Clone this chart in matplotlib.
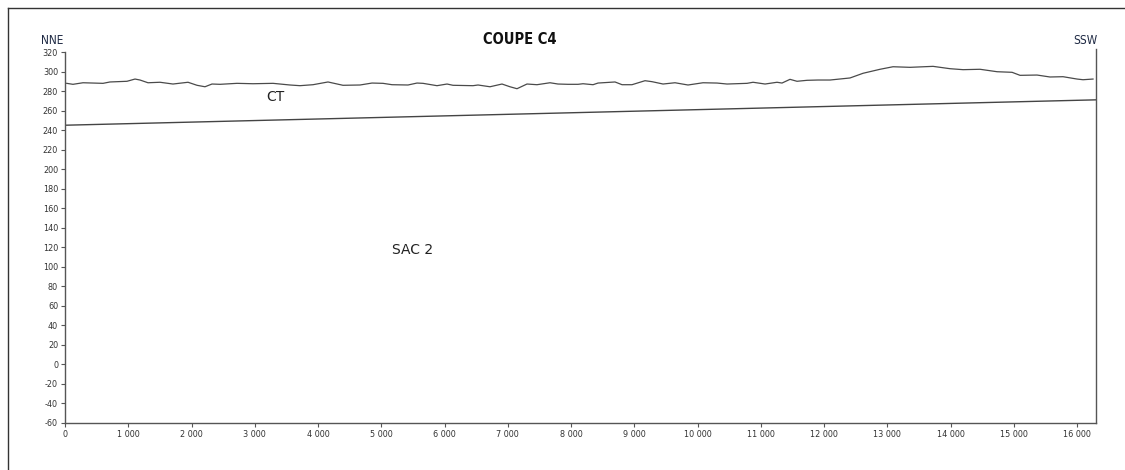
import matplotlib
matplotlib.use('Agg')
import matplotlib.pyplot as plt
from matplotlib.lines import Line2D
from matplotlib.ticker import FuncFormatter

plt.rcParams['axes.unicode_minus'] = False

# ground surface profile (CT) : distance (m), elevation (m)
ct_dist = [27, 126, 285, 601, 711, 980, 1107, 1186, 1312, 1502, 1707, 1945,
           2087, 2213, 2324, 2451, 2719, 2972, 3289, 3557, 3715, 3921, 4158,
           4395, 4664, 4854, 5028, 5170, 5423, 5565, 5660, 5881, 6040, 6134,
           6450, 6530, 6719, 6909, 7035, 7146, 7304, 7462, 7668, 7794, 7952,
           8111, 8190, 8348, 8427, 8696, 8807, 8964, 9170, 9281, 9455, 9644,
           9850, 10087, 10308, 10467, 10783, 10878, 11068, 11257, 11336,
           11462, 11573, 11731, 11905, 12095, 12411, 12617, 12886, 13091,
           13360, 13724, 13992, 14198, 14467, 14736, 14973, 15099, 15368,
           15573, 15779, 16000, 16095, 16253]
ct_elev = [287.9, 286.9, 288.5, 287.9, 289.3, 290.0, 292.3, 291.3, 288.5,
           289.0, 287.2, 289.0, 285.9, 284.4, 287.2, 286.9, 287.9, 287.5,
           287.9, 286.2, 285.5, 286.5, 289.3, 285.9, 286.2, 288.2, 287.9,
           286.5, 286.2, 288.2, 287.9, 285.5, 287.2, 285.9, 285.5, 286.2,
           284.4, 287.2, 284.4, 282.4, 287.2, 286.5, 288.5, 287.2, 286.9,
           286.9, 287.5, 286.5, 288.2, 289.3, 286.5, 286.5, 290.6, 289.6,
           287.2, 288.5, 286.2, 288.5, 288.2, 287.2, 287.9, 289.0, 287.2,
           289.0, 288.2, 292.0, 290.0, 291.0, 291.3, 291.3, 293.4, 298.2,
           302.3, 304.9, 304.3, 305.3, 302.9, 301.9, 302.3, 299.8, 299.2,
           296.1, 296.4, 294.4, 294.7, 292.3, 291.6, 292.3]

# base of SAC 2 layer
sac_dist = [0, 16300]
sac_elev = [245, 271]

x_ticks = list(range(0, 16001, 1000))
y_ticks = list(range(-60, 321, 20))

fig = plt.figure(figsize=(11.25, 4.7), dpi=100)
ax = fig.add_axes([65 / 1125, 47 / 470, 1031 / 1125, 371 / 470])

ax.plot(ct_dist, ct_elev, color='#4a4a4a', lw=0.9)
ax.plot(sac_dist, sac_elev, color='#444444', lw=1.0)

ax.set_xlim(0, 16300)
ax.set_ylim(-60, 320)
ax.set_xticks(x_ticks)
ax.set_yticks(y_ticks)
ax.xaxis.set_major_formatter(FuncFormatter(lambda v, p: '{:,}'.format(int(v)).replace(',', ' ')))

for lab in ax.get_xticklabels() + ax.get_yticklabels():
    lab.set_family('DejaVu Sans')
    lab.set_fontstretch('condensed')
ax.tick_params(axis='both', direction='out', length=3, width=0.8,
               color='#555555', labelcolor='#333333', labelsize=6.5, pad=2)

ax.spines['top'].set_visible(False)
for s in ['left', 'bottom', 'right']:
    ax.spines[s].set_color('#555555')
    ax.spines[s].set_linewidth(1.0)
ax.spines['right'].set_bounds(-60, 323)

ax.text(3320, 274, 'CT', fontsize=10, color='#222222', ha='center', va='center')
ax.text(5500, 117, 'SAC 2', fontsize=10, color='#222222', ha='center', va='center')

fig.text(520 / 1125, 1 - 40 / 470, 'COUPE C4', fontsize=10.5, fontweight='bold',
         fontstretch='condensed', ha='center', va='center', color='#111111')
fig.text(52 / 1125, 1 - 40 / 470, 'NNE', fontsize=8.5, ha='center', va='center',
         fontstretch='condensed', color='#1f2a44')
fig.text(1085 / 1125, 1 - 40 / 470, 'SSW', fontsize=8.5, ha='center', va='center',
         fontstretch='condensed', color='#1f2a44')

# outer frame (top and left edges only)
fig.add_artist(Line2D([8 / 1125, 1], [1 - 8 / 470, 1 - 8 / 470], color='#333333', lw=1.0))
fig.add_artist(Line2D([8 / 1125, 8 / 1125], [0, 1 - 8 / 470], color='#333333', lw=1.0))

fig.savefig('out.png', dpi=100)
